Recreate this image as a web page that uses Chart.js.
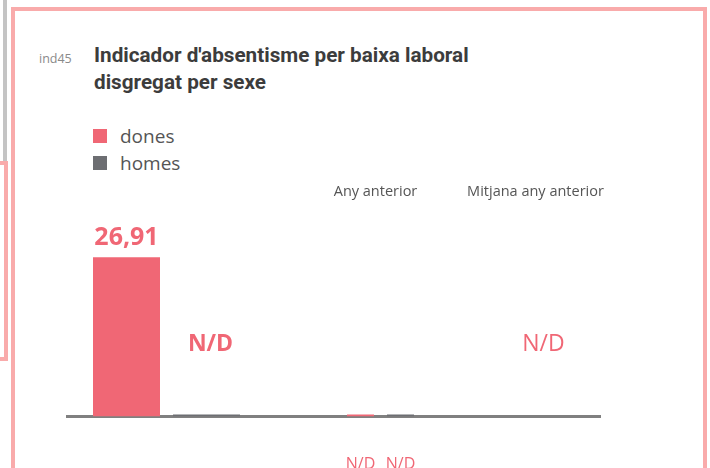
<!DOCTYPE html>
<html lang="ca">
<head>
<meta charset="utf-8">
<title>ind45</title>
<script src="https://cdn.jsdelivr.net/npm/chart.js@4/dist/chart.umd.min.js"></script>
<style>
  html, body { margin: 0; padding: 0; background: #fff; width: 710px; height: 468px; overflow: hidden; }
  body { position: relative; font-family: 'Open Sans', 'Noto Sans', sans-serif; }
  .deco { position: absolute; box-sizing: border-box; }
  #stripGrey { left: 3px; top: 0; width: 4px; height: 161px; background: #c4c4c4; }
  #cardPrev { left: -100px; top: 161px; width: 108px; height: 200px; border: 4px solid #f9abab; }
  #cardMain { left: 11px; top: 7px; width: 696px; height: 600px; border: 4px solid #f9abab; }
  #code { position: absolute; left: 39px; top: 50px; font-size: 12.5px; color: #8a8a8a; line-height: 18px; }
  #title { position: absolute; left: 94px; top: 42px; margin: 0; font-family: Roboto, 'Open Sans', sans-serif; font-weight: bold; font-size: 21px; line-height: 27px; color: #3c3c3c; white-space: nowrap; transform: scaleX(0.985); transform-origin: left top; }
  #legend { position: absolute; left: 93px; top: 122px; margin: 0; padding: 0; list-style: none; }
  #legend li { height: 27px; display: flex; align-items: center; font-size: 19px; color: #555; }
  #legend span.sw { display: inline-block; width: 14px; height: 14px; margin-right: 13px; }
  canvas { position: absolute; top: 0; }
  #chartNow { left: 0; }
  #chartPrev { left: 266px; }
  #chartAvg { left: 420px; }
</style>
</head>
<body>
<div class="deco" id="stripGrey"></div>
<div class="deco" id="cardPrev"></div>
<div class="deco" id="cardMain"></div>
<div id="code">ind45</div>
<h1 id="title">Indicador d'absentisme per baixa laboral<br>disgregat per sexe</h1>
<ul id="legend"></ul>
<canvas id="chartNow" width="266" height="468"></canvas>
<canvas id="chartPrev" width="229" height="468"></canvas>
<canvas id="chartAvg" width="290" height="468"></canvas>
<script>
// Groups shown along the baseline
const groups = ['Any actual', 'Any anterior', 'Mitjana any anterior'];
// Series (by sex)
const series = ['dones', 'homes'];
// Values per series for each group (null = N/D)
const anyActual = [26.91, null];
const anyAnterior = [null, null];
const mitjanaAnyAnterior = [null];

const PINK = '#f06775';
const GREY = '#6d6e72';
const seriesColors = [PINK, GREY];
const Y_MAX = 36;

// Legend
const legendEl = document.getElementById('legend');
series.forEach((name, i) => {
  const li = document.createElement('li');
  const sw = document.createElement('span');
  sw.className = 'sw';
  sw.style.background = seriesColors[i];
  li.appendChild(sw);
  li.appendChild(document.createTextNode(name));
  legendEl.appendChild(li);
});

const fmt = v => v.toLocaleString('ca-ES', { minimumFractionDigits: 2, maximumFractionDigits: 2 });

// Group header plus value / N/D labels drawn on top of the bars
const valueLabels = {
  id: 'valueLabels',
  afterDatasetsDraw(chart, args, opts) {
    const { ctx, chartArea } = chart;
    const x = chart.scales.x;
    const y = chart.scales.y;
    const zero = y.getPixelForValue(0);
    const mid = y.getPixelForValue(Y_MAX * 0.34);

    if (opts.header) {
      ctx.save();
      ctx.fillStyle = '#555';
      ctx.font = '14.5px "Open Sans", sans-serif';
      ctx.textAlign = 'center';
      ctx.textBaseline = 'middle';
      ctx.fillText(chart.data.labels[0], x.getPixelForValue(0) + opts.headerShift, chartArea.top - 11);
      ctx.restore();
    }

    chart.data.datasets.forEach((ds, di) => {
      const meta = chart.getDatasetMeta(di);
      meta.data.forEach((bar, i) => {
        const v = ds.values[i];
        ctx.save();
        ctx.fillStyle = PINK;
        ctx.textAlign = 'center';
        if (v == null) {
          ctx.font = opts.ndFont;
          if (opts.ndPlace === 'below') {
            ctx.textBaseline = 'alphabetic';
            ctx.fillText('N/D', bar.x, zero + 52);
          } else {
            ctx.textBaseline = 'middle';
            ctx.fillText('N/D', bar.x + opts.ndShift, mid);
          }
        } else {
          ctx.font = opts.valueFont;
          ctx.textBaseline = 'alphabetic';
          ctx.fillText(fmt(v), bar.x, bar.y - 12);
        }
        ctx.restore();
      });
    });
  }
};

function barSet(label, values, color, stub, catPct, barPct) {
  return {
    label,
    values,
    data: values.map(v => (v == null ? (stub ? 0 : null) : v)),
    backgroundColor: color,
    borderWidth: 0,
    minBarLength: stub ? 2 : 0,
    categoryPercentage: catPct,
    barPercentage: barPct
  };
}

function groupChart(canvasId, label, datasets, padLeft, padRight, labelOpts) {
  return new Chart(document.getElementById(canvasId), {
    type: 'bar',
    data: { labels: [label], datasets },
    options: {
      responsive: false,
      animation: false,
      events: [],
      layout: { padding: { left: padLeft, right: padRight, top: 203.3, bottom: 51.5 } },
      plugins: {
        legend: { display: false },
        tooltip: { enabled: false },
        valueLabels: labelOpts
      },
      scales: {
        x: {
          type: 'category',
          offset: true,
          grid: { display: false, drawTicks: false },
          border: { display: true, color: '#808080', width: 3 },
          ticks: { display: false }
        },
        y: { display: false, min: 0, max: Y_MAX }
      }
    },
    plugins: [valueLabels]
  });
}

groupChart('chartNow', groups[0], [
  barSet(series[0], [anyActual[0]], PINK, true, 160 / 199, 67 / 80),
  barSet(series[1], [anyActual[1]], GREY, true, 160 / 199, 67 / 80)
], 67, 0, { header: false, headerShift: 0, valueFont: 'bold 25px "Open Sans", sans-serif', ndFont: 'bold 23px "Open Sans", sans-serif', ndPlace: 'mid', ndShift: 4 });

groupChart('chartPrev', groups[1], [
  barSet(series[0], [anyAnterior[0]], PINK, true, 80 / 229, 27 / 40),
  barSet(series[1], [anyAnterior[1]], GREY, true, 80 / 229, 27 / 40)
], 0, 0, { header: true, headerShift: -5, valueFont: '16px "Open Sans", sans-serif', ndFont: '16px "Open Sans", sans-serif', ndPlace: 'below', ndShift: 0 });

groupChart('chartAvg', groups[2], [
  barSet('mitjana', mitjanaAnyAnterior, PINK, false, 0.8, 0.9)
], 75, 110, { header: true, headerShift: -12, valueFont: '23px "Open Sans", sans-serif', ndFont: '23px "Open Sans", sans-serif', ndPlace: 'mid', ndShift: -4 });
</script>
</body>
</html>
